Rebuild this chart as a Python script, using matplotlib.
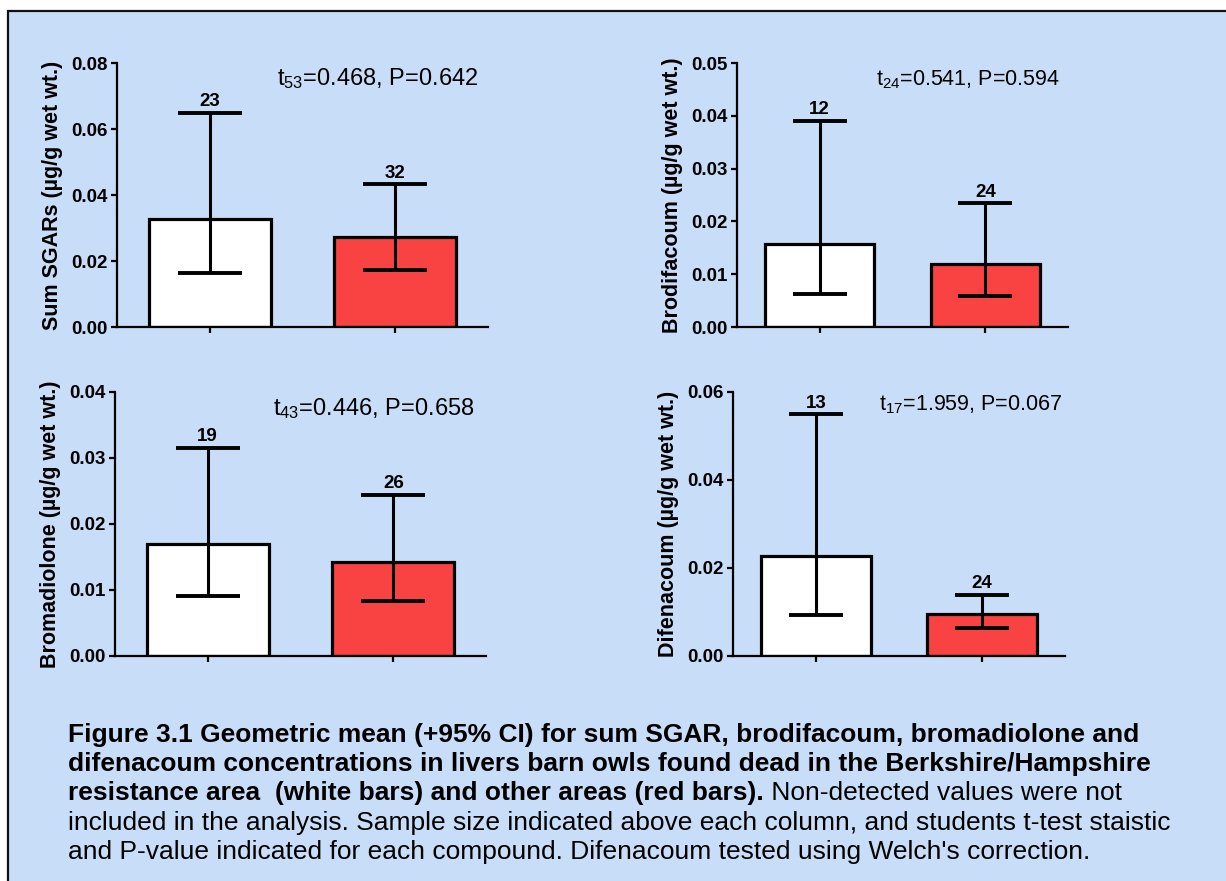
import matplotlib
matplotlib.use("Agg")
import matplotlib.pyplot as plt
from matplotlib.patches import Rectangle

# Geometric means and 95% CI
compounds = ['Sum SGARs', 'Brodifacoum', 'Bromadiolone', 'Difenacoum']
mean_resist = [0.0327, 0.0157, 0.0170, 0.0227]
lo_resist = [0.0165, 0.0062, 0.0091, 0.0093]
hi_resist = [0.0650, 0.0391, 0.0315, 0.0549]
mean_other = [0.0272, 0.0119, 0.0142, 0.0095]
lo_other = [0.0173, 0.0059, 0.0083, 0.0064]
hi_other = [0.0432, 0.0234, 0.0244, 0.0139]
n_resist = [23, 12, 19, 13]
n_other = [32, 24, 26, 24]
t_df = [53, 24, 43, 17]
t_stat = ['0.468', '0.541', '0.446', '1.959']
p_val = ['0.642', '0.594', '0.658', '0.067']
y_max = [0.08, 0.05, 0.04, 0.06]
y_step = [0.02, 0.01, 0.01, 0.02]

caption_lines = [
    ("Figure 3.1 Geometric mean (+95% CI) for sum SGAR, brodifacoum, bromadiolone and", ""),
    ("difenacoum concentrations in livers barn owls found dead in the Berkshire/Hampshire", ""),
    ("resistance area  (white bars) and other areas (red bars).", " Non-detected values were not"),
    ("", "included in the analysis. Sample size indicated above each column, and students t-test staistic"),
    ("", "and P-value indicated for each compound. Difenacoum tested using Welch's correction."),
]

plt.rcParams['font.family'] = ['Liberation Sans', 'DejaVu Sans']
BG = '#C8DEF8'
RED = '#F94242'

W, H = 1226, 881
fig = plt.figure(figsize=(W / 100, H / 100), dpi=100, facecolor='white')

# blue text-box background with black border (left/top visible)
fig.patches.append(Rectangle((8 / W, -0.1), 1.2, 1.1 - 11 / H, transform=fig.transFigure,
                             facecolor=BG, edgecolor='#111111', linewidth=1.6, zorder=-10))

# axes boxes in pixels: left, right, top, bottom
boxes = [(117, 488, 63, 327), (737, 1068, 63, 327),
         (115, 486, 392, 656), (733, 1065, 392, 656)]
text_pos = [(0.43, 0.917), (0.42, 0.917), (0.426, 0.913), (0.44, 0.93)]

for i, (l, r, t, b) in enumerate(boxes):
    ax = fig.add_axes([l / W, 1 - b / H, (r - l) / W, (b - t) / H])
    ax.set_facecolor('none')
    right_col = i % 2 == 1
    means = [mean_resist[i], mean_other[i]]
    los = [lo_resist[i], lo_other[i]]
    his = [hi_resist[i], hi_other[i]]
    xs = [0, 1]
    ax.bar(xs, means, width=0.66, color=['white', RED], edgecolor='black',
           linewidth=2.3, zorder=2)
    yerr = [[m - lo for m, lo in zip(means, los)], [h - m for m, h in zip(means, his)]]
    ax.errorbar(xs, means, yerr=yerr, fmt='none', ecolor='black', elinewidth=2.2,
                capsize=19.5 if right_col else 23, capthick=2.8, zorder=3)
    for x, h, n in zip(xs, his, [n_resist[i], n_other[i]]):
        ax.annotate(str(n), xy=(x, h), xytext=(0, 2), textcoords='offset points',
                    ha='center', va='bottom', fontsize=13.5, fontweight='bold')
    ax.set_xlim(-0.5, 1.5)
    ax.set_ylim(0, y_max[i])
    nt = int(round(y_max[i] / y_step[i]))
    ax.set_yticks([k * y_step[i] for k in range(nt + 1)])
    ax.set_yticklabels([f"{k * y_step[i]:.2f}" for k in range(nt + 1)],
                       fontsize=13.5, fontweight='bold')
    ax.set_xticks(xs)
    ax.set_xticklabels(['', ''])
    for s in ['top', 'right']:
        ax.spines[s].set_visible(False)
    for s in ['left', 'bottom']:
        ax.spines[s].set_linewidth(1.6)
    ax.tick_params(width=1.6, length=4.5, pad=2)
    ax.set_ylabel(f"{compounds[i]} (\u00b5g/g wet wt.)", fontsize=15.5,
                  fontweight='bold', labelpad=6)
    tx, ty = text_pos[i]
    ax.text(tx, ty, r"$\mathregular{t_{%d}}$=%s, P=%s" % (t_df[i], t_stat[i], p_val[i]),
            transform=ax.transAxes, ha='left', va='baseline',
            fontsize=15.5 if right_col else 17)

# caption
cap = fig.add_axes([0, 0, 1, 1])
cap.set_axis_off()
cap.set_xlim(0, W)
cap.set_ylim(H, 0)
baselines = [742, 771, 800, 830, 859]
for (bold, normal), yb in zip(caption_lines, baselines):
    if bold:
        tb = cap.text(68, yb, bold, fontsize=19, fontweight='bold', va='baseline', ha='left')
        if normal:
            cap.annotate(normal, xy=(1, 0), xycoords=tb, va='bottom', ha='left', fontsize=19)
    else:
        cap.text(68, yb, normal, fontsize=19, va='baseline', ha='left')

fig.savefig('out.png', dpi=100, facecolor='white')
